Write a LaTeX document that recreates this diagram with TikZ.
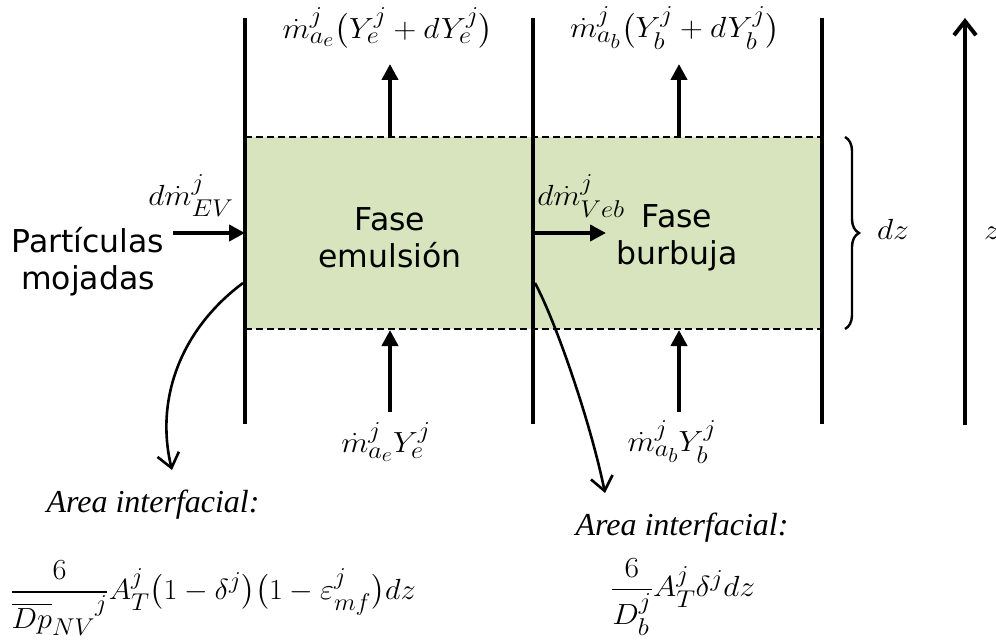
\documentclass[tikz,border=0pt]{standalone}
\usepackage{amsmath}
\usepackage{graphicx}
\usepackage{fontspec}
\newfontfamily\sansfam{DejaVu Sans}
\newfontfamily\serifit{Liberation Serif}[ItalicFont={Liberation Serif Italic}]
\usetikzlibrary{arrows.meta,decorations.pathreplacing}
\definecolor{phasegreen}{HTML}{D7E4BD}
\newcommand\mlab[1]{\scalebox{1.27}[1.17]{$#1$}}
\newcommand\mlabnarrow[1]{\scalebox{1.22}[1.17]{$#1$}}
\begin{document}
\begin{tikzpicture}[x=1pt,y=-1pt,
  wall/.style={line width=4pt},
  sep/.style={line width=1.6pt,dash pattern=on 7pt off 4pt},
  flow/.style={line width=4pt,-{Triangle[length=16pt,width=16pt]}},
  curvy/.style={line width=2.6pt,-{Straight Barb[length=14pt,width=22pt,line width=2.6pt]}},
  axisarrow/.style={line width=4pt,-{Straight Barb[length=14pt,width=22pt,line width=4pt]}},
  sanslab/.style={font=\sansfam\fontsize{31.5}{37}\selectfont,align=center,inner sep=0pt},
  mathlab/.style={font=\fontsize{24.88}{30}\selectfont,inner sep=0pt},
  itlab/.style={font=\serifit\itshape\fontsize{32}{36}\selectfont,inner sep=0pt,anchor=base}]
\useasboundingbox (0,0) rectangle (996,644);
% phases
\fill[phasegreen] (245,137) rectangle (822,329);
\draw[sep] (245,137) -- (822,137);
\draw[sep] (245,329) -- (822,329);
% walls
\draw[wall] (245,18) -- (245,424);
\draw[wall] (533,18) -- (533,424);
\draw[wall] (822,18) -- (822,424);
% coordinates for connectors
\coordinate (eTopS) at (390,137);
\coordinate (eTopE) at (390,64);
\coordinate (bTopS) at (679,137);
\coordinate (bTopE) at (679,64);
\coordinate (eBotS) at (390,412);
\coordinate (eBotE) at (390,330);
\coordinate (bBotS) at (679,412);
\coordinate (bBotE) at (679,330);
\coordinate (evS) at (173,233);
\coordinate (evE) at (245,233);
\coordinate (vebS) at (533,233);
\coordinate (vebE) at (606,233);
\coordinate (zBot) at (965,425);
\coordinate (zTop) at (965,18);
\coordinate (c1s) at (243,283);
\coordinate (c1e) at (172,470);
\coordinate (c2s) at (535,283);
\coordinate (c2e) at (605,493);
% flow arrows
\draw[flow] (eTopS) -- (eTopE);
\draw[flow] (bTopS) -- (bTopE);
\draw[flow] (eBotS) -- (eBotE);
\draw[flow] (bBotS) -- (bBotE);
\draw[flow] (evS) -- (evE);
\draw[flow] (vebS) -- (vebE);
\draw[axisarrow] (zBot) -- (zTop);
% curved arrows
\draw[curvy] (c1s) .. controls (180,330) and (155,400) .. (c1e);
\draw[curvy] (c2s) .. controls (555,320) and (590,420) .. (c2e);
% brace
\draw[line width=2.4pt,decorate,decoration={brace,amplitude=14pt}] (845,137) -- (845,329);
% labels
\node[mathlab] (topE) at (388,28) {\mlab{\dot{m}^{j}_{a_e}\bigl(Y^{j}_{e}+dY^{j}_{e}\bigr)}};
\node[mathlab] (topB) at (675,28) {\mlab{\dot{m}^{j}_{a_b}\bigl(Y^{j}_{b}+dY^{j}_{b}\bigr)}};
\node[mathlab] (botE) at (386,442) {\mlab{\dot{m}^{j}_{a_e}Y^{j}_{e}}};
\node[mathlab] (botB) at (672,442) {\mlab{\dot{m}^{j}_{a_b}Y^{j}_{b}}};
\node[mathlab] (ev) at (191,196) {\mlab{d\dot{m}^{j}_{EV}}};
\node[mathlab] (veb) at (581,196) {\mlab{d\dot{m}^{j}_{Veb}}};
\node[mathlab,anchor=base] (dz) at (893,240) {\mlab{dz}};
\node[mathlab,anchor=base west] (z) at (984,240) {\mlab{z}};
\node[sanslab] (part) at (88,262) {Partículas\\mojadas};
\node[sanslab] (emul) at (390,238) {Fase\\emulsión};
\node[sanslab] (burb) at (677,238) {Fase\\burbuja};
\node[itlab] (areaE) at (153,512) {Area interfacial:};
\node[itlab] (areaB) at (682,535) {Area interfacial:};
\node[mathlab] (formE) at (213,598) {\mlabnarrow{\dfrac{6}{{\overline{Dp}_{NV}}^{j}}A^{j}_{T}\bigl(1-\delta^{j}\bigr)\bigl(1-\varepsilon^{j}_{mf}\bigr)dz}};
\node[mathlab] (formB) at (683,597) {\mlab{\dfrac{6}{D^{j}_{b}}A^{j}_{T}\delta^{j}dz}};
\end{tikzpicture}
\end{document}
